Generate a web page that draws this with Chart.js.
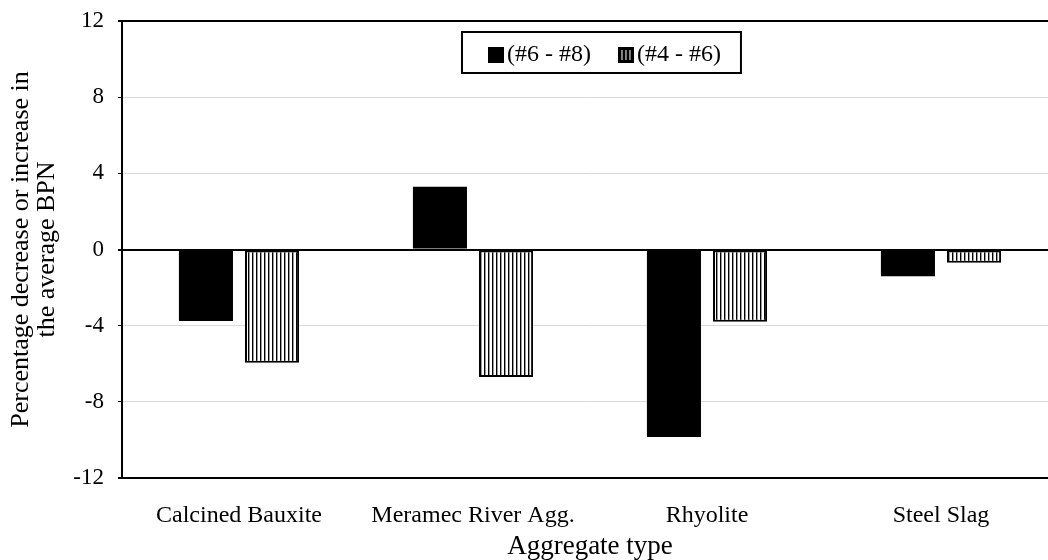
<!DOCTYPE html>
<html><head><meta charset="utf-8">
<script src="https://cdn.jsdelivr.net/npm/chart.js@4.4.1/dist/chart.umd.min.js"></script>
<style>html,body{margin:0;padding:0;overflow:hidden;background:#fff}#wrap{width:1060px;height:560px}</style>
</head><body><div id="wrap"><canvas id="c" width="1060" height="560"></canvas></div>
<script>
const categories = ['Calcined Bauxite', 'Meramec River Agg.', 'Rhyolite', 'Steel Slag'];
const seriesLabels = ['(#6 - #8)', '(#4 - #6)'];
const values68 = [-3.75, 3.3, -9.85, -1.4];
const values46 = [-5.95, -6.7, -3.8, -0.7];
const yMin = -12, yMax = 12, yStep = 4;
const xTitle = 'Aggregate type';
const yTitle = ['Percentage decrease or increase in', 'the average BPN'];

const FONT = "'Liberation Serif', 'Times New Roman', serif";
const canvas = document.getElementById('c');
const ctx0 = canvas.getContext('2d');

function makeHatch() {
  const c = document.createElement('canvas');
  c.width = 4; c.height = 4;
  const g = c.getContext('2d');
  g.fillStyle = '#fff'; g.fillRect(0, 0, 4, 4);
  g.fillStyle = '#000'; g.fillRect(0, 0, 1, 4);
  g.fillStyle = '#999'; g.fillRect(1, 0, 1, 4);
  return ctx0.createPattern(c, 'repeat');
}
const hatch = makeHatch();

const boxLegend = {
  id: 'boxLegend',
  afterDraw(chart, args, opts) {
    const ctx = chart.ctx;
    ctx.save();
    ctx.font = opts.fontSize + 'px ' + FONT;
    ctx.textBaseline = 'middle';
    ctx.textAlign = 'left';
    const ds = chart.data.datasets;
    const sw = 16, gapSw = 3, gapItem = 27, padL = 26, padR = 20, boxH = 41;
    const widths = ds.map(d => ctx.measureText(d.label).width);
    const inner = widths.reduce((s, w) => s + sw + gapSw + w, 0) + gapItem * (ds.length - 1);
    const boxW = padL + inner + padR;
    const left = opts.left, top = opts.top;
    ctx.fillStyle = '#fff';
    ctx.fillRect(left, top, boxW, boxH);
    ctx.lineWidth = 2; ctx.strokeStyle = '#000';
    ctx.strokeRect(left, top, boxW, boxH);
    let x = left + padL;
    const my = top + 23;
    ds.forEach((d, i) => {
      ctx.fillStyle = '#000';
      ctx.fillRect(x, my - 8, sw, sw);
      if (d.borderWidth) {
        ctx.fillStyle = '#fff';
        for (let k = 1; k <= 3; k++) ctx.fillRect(x + k * 4 - 0.5, my - 5, 1, sw - 6);
      }
      x += sw + gapSw;
      ctx.fillStyle = '#000';
      ctx.fillText(d.label, x, my);
      x += widths[i] + gapItem;
    });
    ctx.restore();
  }
};

const special = v => v === 0 || Math.abs(v) === 12;

new Chart(canvas, {
  type: 'bar',
  data: {
    labels: categories,
    datasets: [
      { label: seriesLabels[0], data: values68, backgroundColor: '#000', borderWidth: 0 },
      { label: seriesLabels[1], data: values46, backgroundColor: hatch, borderColor: '#000', borderWidth: 2, borderSkipped: false }
    ]
  },
  options: {
    responsive: false,
    animation: false,
    categoryPercentage: 0.565,
    barPercentage: 0.818,
    layout: { padding: { top: 21, right: 2, bottom: 0, left: 0 } },
    plugins: {
      legend: { display: false },
      tooltip: { enabled: false },
      boxLegend: { left: 462, top: 32, fontSize: 24 }
    },
    scales: {
      x: {
        grid: { display: false },
        border: { display: true, color: '#000', width: 2 },
        ticks: { color: '#000', font: { family: FONT, size: 24 }, padding: 15, maxRotation: 0, autoSkip: false },
        title: { display: true, text: xTitle, color: '#000', font: { family: FONT, size: 27, lineHeight: 1 }, padding: { top: 0, bottom: 0 } },
        afterFit: s => { s.height = 82; }
      },
      y: {
        min: yMin, max: yMax,
        ticks: { stepSize: yStep, color: '#000', font: { family: FONT, size: 23 }, padding: 14 },
        grid: {
          color: c => (c.tick && special(c.tick.value)) ? '#000' : '#d9d9d9',
          lineWidth: c => (c.tick && special(c.tick.value)) ? 2 : 1,
          tickColor: '#000', tickLength: 4
        },
        border: { display: true, color: '#000', width: 2 },
        title: { display: true, text: yTitle, color: '#000', font: { family: FONT, size: 26, lineHeight: 1 }, padding: { top: 8, bottom: 0 } },
        afterFit: s => { s.width = 122; s.paddingTop = 0; s.paddingBottom = 0; }
      }
    }
  },
  plugins: [boxLegend]
});
</script>
</body></html>
